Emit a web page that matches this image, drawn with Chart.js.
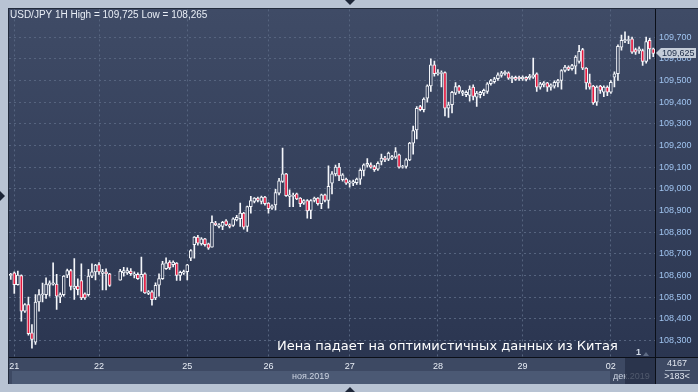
<!DOCTYPE html>
<html>
<head>
<meta charset="utf-8">
<title>USD/JPY 1H</title>
<script src="https://cdn.jsdelivr.net/npm/chart.js@4.4.0/dist/chart.umd.min.js"></script>
<style>
  html, body { margin: 0; padding: 0; background: #b8c3d3; }
  canvas { display: block; }
</style>
</head>
<body>
<canvas id="chart" width="698" height="392"></canvas>
<script>
// hourly candles, 20 Nov 2019 late -> 02 Dec 2019 midday
const opens = [
  108.600, 108.612, 108.558, 108.600, 108.435, 108.466, 108.335, 108.292, 108.478, 108.510,
  108.512, 108.556, 108.560, 108.561, 108.500, 108.512, 108.602, 108.623, 108.540, 108.551,
  108.577, 108.516, 108.512, 108.597, 108.617, 108.651, 108.610, 108.617, 108.608, null,
  null, 108.578, 108.612, 108.612, 108.620, 108.602, 108.605, 108.592, 108.608, 108.517,
  108.525, 108.497, 108.555, 108.586, 108.632, 108.662, 108.650, 108.657, 108.600, 108.611,
  108.618, 108.680, 108.742, 108.777, 108.746, 108.769, 108.746, 108.731, 108.842, 108.826,
  108.826, 108.852, 108.834, 108.831, 108.857, 108.862, 108.888, 108.826, 108.918, 108.942,
  108.957, 108.942, 108.962, 108.934, 108.911, 108.926, 108.980, 109.034, 109.069, 108.965,
  108.965, 108.977, 108.957, 108.934, 108.946, 108.900, 108.946, 108.957, 108.931, 108.972,
  108.946, 109.026, 109.069, 109.100, 109.042, 109.045, 109.026, 109.026, 109.029, 109.045,
  109.085, 109.109, 109.111, 109.103, 109.091, 109.126, 109.142, 109.137, 109.142, 109.146,
  109.157, 109.100, 109.103, 109.134, 109.211, 109.272, 109.380, 109.365, 109.418, 109.475,
  109.572, 109.531, 109.533, 109.537, 109.372, 109.388, 109.442, 109.472, 109.442, 109.434,
  109.431, 109.469, 109.423, 109.434, 109.442, 109.449, 109.485, 109.495, 109.508, 109.523,
  109.531, 109.535, 109.508, 109.515, 109.515, 109.508, 109.515, 109.512, 109.515, 109.531,
  109.469, 109.480, 109.489, 109.469, 109.474, 109.489, 109.500, 109.546, 109.562, 109.554,
  109.566, 109.588, 109.643, 109.557, 109.489, 109.474, 109.400, 109.474, 109.446, 109.469,
  109.446, 109.515, 109.531, 109.654, 109.682, 109.685, 109.692, 109.643, 109.637, 109.638,
  109.588, 109.685, 109.646
];
const highs = [
  108.610, 108.617, 108.620, 108.603, 108.470, 108.500, 108.374, 108.512, 108.535, 108.565,
  108.589, 108.575, 108.658, 108.605, 108.520, 108.600, 108.630, 108.628, 108.678, 108.585,
  108.654, 108.520, 108.628, 108.654, 108.652, 108.660, 108.628, 108.631, 108.610, null,
  null, 108.628, 108.638, 108.635, 108.632, 108.617, 108.612, 108.685, 108.612, 108.531,
  108.531, 108.566, 108.608, 108.666, 108.682, 108.669, 108.668, 108.660, 108.620, 108.625,
  108.652, 108.720, 108.780, 108.785, 108.775, 108.772, 108.750, 108.875, 108.850, 108.840,
  108.850, 108.858, 108.838, 108.866, 108.878, 108.934, 108.892, 108.920, 108.965, 108.960,
  108.962, 108.966, 108.965, 108.937, 108.926, 108.998, 109.049, 109.188, 109.072, 108.995,
  108.980, 108.980, 108.960, 108.950, 108.950, 108.950, 108.962, 108.960, 108.976, 108.976,
  109.106, 109.080, 109.110, 109.118, 109.070, 109.050, 109.038, 109.040, 109.050, 109.092,
  109.115, 109.140, 109.120, 109.108, 109.125, 109.160, 109.150, 109.170, 109.155, 109.190,
  109.160, 109.108, 109.140, 109.215, 109.290, 109.380, 109.385, 109.420, 109.480, 109.600,
  109.590, 109.550, 109.545, 109.540, 109.400, 109.450, 109.490, 109.478, 109.455, 109.452,
  109.475, 109.480, 109.450, 109.450, 109.460, 109.490, 109.505, 109.515, 109.535, 109.542,
  109.545, 109.540, 109.520, 109.520, 109.520, 109.522, 109.518, 109.528, 109.603, 109.535,
  109.492, 109.495, 109.492, 109.485, 109.498, 109.505, 109.550, 109.570, 109.568, 109.575,
  109.615, 109.662, 109.648, 109.560, 109.530, 109.478, 109.475, 109.478, 109.475, 109.475,
  109.500, 109.540, 109.665, 109.710, 109.725, 109.705, 109.700, 109.650, 109.655, 109.645,
  109.700, 109.695, 109.650
];
const lows = [
  108.582, 108.517, 108.555, 108.389, 108.430, 108.325, 108.265, 108.282, 108.435, 108.478,
  108.494, 108.505, 108.555, 108.443, 108.475, 108.505, 108.590, 108.534, 108.490, 108.510,
  108.488, 108.490, 108.505, 108.590, 108.580, 108.605, 108.533, 108.533, 108.550, null,
  null, 108.578, 108.597, 108.605, 108.600, 108.589, 108.582, 108.528, 108.517, 108.512,
  108.463, 108.489, 108.505, 108.582, 108.628, 108.628, 108.640, 108.577, 108.577, 108.605,
  108.580, 108.669, 108.680, 108.740, 108.740, 108.735, 108.720, 108.731, 108.830, 108.820,
  108.812, 108.830, 108.820, 108.826, 108.852, 108.826, 108.814, 108.803, 108.888, 108.935,
  108.940, 108.930, 108.925, 108.888, 108.905, 108.903, 108.972, 109.030, 108.965, 108.918,
  108.918, 108.950, 108.918, 108.928, 108.865, 108.862, 108.940, 108.925, 108.908, 108.940,
  108.911, 108.977, 109.060, 109.038, 109.035, 109.020, 109.008, 109.015, 109.020, 109.020,
  109.060, 109.100, 109.095, 109.080, 109.085, 109.110, 109.125, 109.130, 109.135, 109.140,
  109.095, 109.095, 109.095, 109.130, 109.160, 109.230, 109.360, 109.355, 109.400, 109.449,
  109.520, 109.525, 109.470, 109.337, 109.330, 109.350, 109.435, 109.440, 109.430, 109.425,
  109.405, 109.410, 109.380, 109.420, 109.430, 109.440, 109.478, 109.488, 109.500, 109.515,
  109.525, 109.505, 109.490, 109.500, 109.500, 109.500, 109.498, 109.505, 109.510, 109.450,
  109.460, 109.470, 109.450, 109.455, 109.465, 109.470, 109.460, 109.540, 109.545, 109.548,
  109.530, 109.580, 109.550, 109.460, 109.460, 109.390, 109.385, 109.440, 109.425, 109.430,
  109.440, 109.470, 109.500, 109.640, 109.675, 109.670, 109.625, 109.620, 109.625, 109.570,
  109.580, 109.600, 109.610
];
const closes = [
  108.605, 108.558, 108.602, 108.435, 108.466, 108.332, 108.305, 108.478, 108.512, 108.515,
  108.561, 108.566, 108.566, 108.505, 108.512, 108.597, 108.623, 108.550, 108.551, 108.535,
  108.497, 108.497, 108.597, 108.617, 108.648, 108.617, 108.617, 108.608, 108.554, null,
  null, 108.620, 108.623, 108.623, 108.608, 108.608, 108.586, 108.605, 108.520, 108.525,
  108.489, 108.555, 108.586, 108.654, 108.658, 108.635, 108.662, 108.600, 108.615, 108.618,
  108.649, 108.715, 108.777, 108.749, 108.769, 108.742, 108.726, 108.846, 108.834, 108.834,
  108.846, 108.834, 108.826, 108.862, 108.869, 108.888, 108.823, 108.918, 108.946, 108.957,
  108.946, 108.962, 108.931, 108.908, 108.922, 108.983, 109.037, 109.069, 108.969, 108.972,
  108.970, 108.954, 108.931, 108.946, 108.898, 108.946, 108.957, 108.931, 108.972, 108.946,
  109.011, 109.069, 109.100, 109.060, 109.065, 109.026, 109.032, 109.034, 109.045, 109.085,
  109.111, 109.118, 109.100, 109.088, 109.118, 109.142, 109.134, 109.165, 109.149, 109.172,
  109.100, 109.103, 109.134, 109.211, 109.269, 109.372, 109.365, 109.414, 109.475, 109.572,
  109.531, 109.537, 109.537, 109.372, 109.388, 109.445, 109.472, 109.449, 109.449, 109.445,
  109.460, 109.426, 109.442, 109.445, 109.454, 109.485, 109.500, 109.508, 109.526, 109.535,
  109.538, 109.511, 109.515, 109.505, 109.508, 109.515, 109.505, 109.520, 109.526, 109.469,
  109.485, 109.489, 109.469, 109.480, 109.492, 109.500, 109.546, 109.562, 109.551, 109.569,
  109.608, 109.634, 109.557, 109.489, 109.469, 109.397, 109.469, 109.454, 109.469, 109.446,
  109.492, 109.531, 109.658, 109.685, 109.689, 109.689, 109.631, 109.631, 109.646, 109.588,
  109.680, 109.646, 109.625
];

// x axis: first candle of each trading day
const dayStarts = [1, 25, 50, 73, 96, 121, 145, 170];
const dayLabels = ["21", "22", "25", "26", "27", "28", "29", "02"];
const yTicks = [108.3, 108.4, 108.5, 108.6, 108.7, 108.8, 108.9, 109.0, 109.1, 109.2, 109.3, 109.4, 109.5, 109.6, 109.7];

const TITLE = "USD/JPY 1H High = 109,725 Low = 108,265";
const NOTE = "Иена падает на оптимистичных данных из Китая";

const RED = "#e3173d";
const fmt = (v) => Number(v).toFixed(3).replace(".", ",");

// plot background gradient, also used to "hollow out" bullish bodies
const plotBg = (chart) => {
  if (!chart.$bg) {
    const g = chart.ctx.createLinearGradient(0, 9, 0, 357);
    g.addColorStop(0, "#3f4b66");
    g.addColorStop(1, "#2b3651");
    chart.$bg = g;
  }
  return chart.$bg;
};

const tri = (ctx, pts, color) => {
  ctx.fillStyle = color;
  ctx.beginPath();
  ctx.moveTo(pts[0], pts[1]);
  ctx.lineTo(pts[2], pts[3]);
  ctx.lineTo(pts[4], pts[5]);
  ctx.closePath();
  ctx.fill();
};

const terminalLook = {
  id: "terminalLook",
  beforeDraw(chart) {
    const { ctx, width, height } = chart;
    ctx.save();
    ctx.fillStyle = "#b8c3d3";
    ctx.fillRect(0, 0, width, height);
    ctx.fillStyle = plotBg(chart);
    ctx.fillRect(8, 8, width - 8, 349);
    // time axis strip
    ctx.fillStyle = "#3d4963";
    ctx.fillRect(8, 357, width - 8, 27);
    ctx.fillStyle = "#4b5974";
    ctx.fillRect(12, 371, 598, 13);
    ctx.restore();
  },
  afterDraw(chart) {
    const { ctx, width } = chart;
    const y = chart.scales.y;
    ctx.save();

    // frame lines
    ctx.strokeStyle = "#0b0f18";
    ctx.lineWidth = 1;
    ctx.beginPath();
    ctx.moveTo(8, 357.5); ctx.lineTo(width, 357.5);
    ctx.moveTo(655.5, 8); ctx.lineTo(655.5, 384);
    ctx.stroke();
    ctx.strokeStyle = "#222b3c";
    ctx.beginPath();
    ctx.moveTo(8, 8.5); ctx.lineTo(width, 8.5);
    ctx.moveTo(8.5, 8); ctx.lineTo(8.5, 384);
    ctx.stroke();

    // title
    ctx.fillStyle = "#e9eef6";
    ctx.font = "10px Arial";
    ctx.textBaseline = "alphabetic";
    ctx.textAlign = "left";
    ctx.fillText(TITLE, 10, 18);

    // headline
    ctx.fillStyle = "#ffffff";
    ctx.font = '13px "DejaVu Sans"';
    ctx.textBaseline = "middle";
    ctx.fillText(NOTE, 277, 347);

    // month labels
    ctx.font = "9px Arial";
    ctx.fillStyle = "#cdd5e2";
    ctx.fillText("ноя.2019", 292, 377);
    ctx.fillText("дек.2019", 613, 377);
    ctx.fillStyle = "rgba(36,46,68,0.75)";
    ctx.fillRect(625, 358, 30, 26);

    // last price marker
    const last = closes[closes.length - 1];
    const py = Math.round(y.getPixelForValue(last));
    ctx.fillStyle = "#c5cdd9";
    ctx.beginPath();
    ctx.moveTo(656, py);
    ctx.lineTo(661, py - 5);
    ctx.lineTo(696, py - 5);
    ctx.lineTo(696, py + 5);
    ctx.lineTo(661, py + 5);
    ctx.closePath();
    ctx.fill();
    ctx.fillStyle = "#1b2a45";
    ctx.font = "9px Arial";
    ctx.fillText(fmt(last), 662, py + 0.5);

    // bar counter box
    ctx.fillStyle = "#e0e6ef";
    ctx.textAlign = "center";
    ctx.fillText("4167", 677, 364);
    ctx.fillText(">183<", 677, 377);
    ctx.strokeStyle = "#9aa6b8";
    ctx.beginPath();
    ctx.moveTo(665, 370.5); ctx.lineTo(690, 370.5);
    ctx.stroke();

    // scroll marker
    ctx.textAlign = "left";
    ctx.fillStyle = "#d3dbe8";
    ctx.font = "bold 9px Arial";
    ctx.fillText("1", 636, 353);
    tri(ctx, [643, 356, 649, 356, 646, 352], "#5f6c85");

    // window triangles
    tri(ctx, [345, 0, 355, 0, 350, 5], "#1d2638");
    tri(ctx, [345, 392, 355, 392, 350, 387], "#1d2638");
    tri(ctx, [0, 191, 0, 201, 5, 196], "#1d2638");

    ctx.restore();
  },
};

const categories = opens.map((_, i) => i);

new Chart(document.getElementById("chart"), {
  type: "bar",
  data: {
    labels: categories,
    datasets: [
      {
        label: "body",
        order: 0,
        grouped: false,
        barThickness: 3,
        data: opens.map((o, i) => (o === null ? null : [o, closes[i]])),
        backgroundColor: (c) =>
          closes[c.dataIndex] < opens[c.dataIndex] ? RED : plotBg(c.chart),
        borderColor: "#f4f6fa",
        borderWidth: 1,
        borderSkipped: false,
      },
      {
        label: "wick",
        order: 1,
        grouped: false,
        barThickness: 1,
        data: lows.map((l, i) => (l === null ? null : [l, highs[i]])),
        backgroundColor: "#f4f6fa",
        borderWidth: 0,
      },
    ],
  },
  options: {
    responsive: false,
    animation: false,
    devicePixelRatio: 1,
    layout: { padding: { left: 9, top: 9, right: 0, bottom: 8 } },
    plugins: {
      legend: { display: false },
      tooltip: { enabled: false },
    },
    scales: {
      x: {
        offset: true,
        afterBuildTicks: (axis) => {
          axis.ticks = dayStarts.map((v) => ({ value: v }));
        },
        afterFit: (axis) => {
          axis.height = 27;
        },
        grid: { offset: false, color: "#56647f", drawTicks: false },
        border: { display: false, dash: [2, 3] },
        ticks: {
          autoSkip: false,
          maxRotation: 0,
          padding: 4,
          color: "#e8edf5",
          font: { family: "Arial", size: 9 },
          callback: (v, i) => dayLabels[i],
        },
      },
      y: {
        position: "right",
        min: 108.224,
        max: 109.828,
        afterBuildTicks: (axis) => {
          axis.ticks = yTicks.map((v) => ({ value: v }));
        },
        afterFit: (axis) => {
          axis.width = 43;
        },
        grid: { color: "#56647f", drawTicks: false },
        border: { display: false, dash: [2, 3] },
        ticks: {
          padding: 4,
          color: "#a0c4f0",
          font: { family: "Arial", size: 9 },
          callback: (v) => fmt(v),
        },
      },
    },
  },
  plugins: [terminalLook],
});
</script>
</body>
</html>
